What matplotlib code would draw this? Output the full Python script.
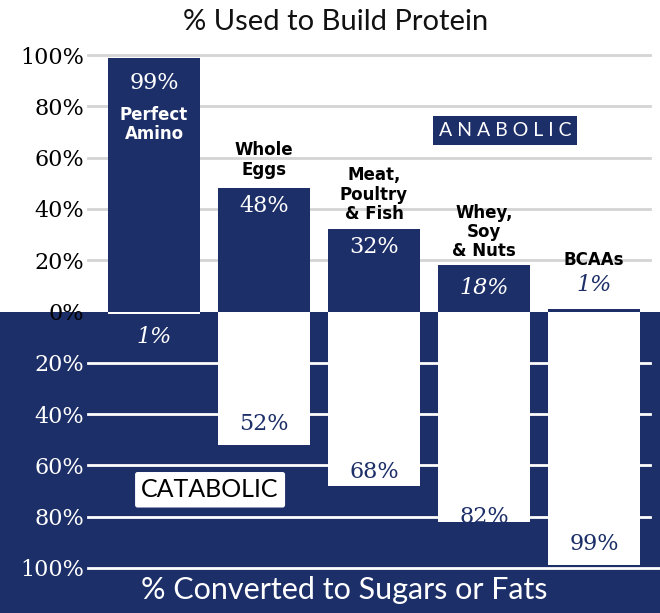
import matplotlib
matplotlib.use("Agg")
import matplotlib.pyplot as plt
from matplotlib.patches import Rectangle
from matplotlib.transforms import blended_transform_factory

categories = ["Perfect\nAmino", "Whole\nEggs", "Meat,\nPoultry\n& Fish", "Whey,\nSoy\n& Nuts", "BCAAs"]
anabolic = [99, 48, 32, 18, 1]
catabolic = [1, 52, 68, 82, 99]
ytick_vals = [100, 80, 60, 40, 20, 0, -20, -40, -60, -80, -100]
ytick_labels = ["100%", "80%", "60%", "40%", "20%", "0%", "20%", "40%", "60%", "80%", "100%"]

NAVY = "#1d2f68"
GRID_TOP = "#d4d4d4"

fig = plt.figure(figsize=(6.6, 6.13), dpi=100)
fig.patch.set_facecolor("white")

W, H = 660, 613
ax = fig.add_axes([88 / W, (H - 568) / H, (650 - 88) / W, (568 - 55) / H])
ax.set_facecolor("none")
ax.set_xlim(-0.6, 4.51)
ax.set_ylim(-100, 100)

# navy lower half background
tr = blended_transform_factory(fig.transFigure, ax.transData)
ax.add_patch(Rectangle((0, -300), 1, 300, transform=tr, facecolor=NAVY,
                       edgecolor="none", clip_on=False, zorder=0))

# gridlines
xmin, xmax = -0.6, 4.51
for v in ytick_vals:
    if v > 0:
        ax.plot([xmin, xmax], [v, v], color=GRID_TOP, lw=2, zorder=1, clip_on=False)
    elif v < 0:
        x2 = 4.65 if v == -100 else xmax
        ax.plot([xmin, x2], [v, v], color="white", lw=2, zorder=1, clip_on=False)

x = list(range(len(categories)))
width = 0.84
ax.bar(x, anabolic, width=width, color=NAVY, zorder=2)
ax.bar(x, [-c for c in catabolic], width=width, color="white", zorder=2)

serif = ["DejaVu Serif"]
sans_b = ["DejaVu Sans"]

# top value labels and category labels
top_val_y = [89, 41, 25, 9, 10.5]
top_val_col = ["white", "white", "white", "white", NAVY]
for i, v in enumerate(anabolic):
    ax.text(x[i], top_val_y[i], f"{v}%", ha="center", va="center",
            color=top_val_col[i], fontsize=16, family=serif,
            style="italic" if v < 20 else "normal", zorder=4)

cat_y = [73, 59, 45.5, 31, 20]
cat_col = ["white", "black", "black", "black", "black"]
for i, c in enumerate(categories):
    ax.text(x[i], cat_y[i], c, ha="center", va="center", color=cat_col[i],
            fontsize=12, fontweight="bold", family=sans_b, linespacing=1.1,
            zorder=4)

# bottom value labels
bot_val_y = [-10, -44, -62.6, -80, -90.7]
bot_val_col = ["white", NAVY, NAVY, NAVY, NAVY]
for i, v in enumerate(catabolic):
    ax.text(x[i], bot_val_y[i], f"{v}%", ha="center", va="center",
            color=bot_val_col[i], fontsize=16, family=serif,
            style="italic" if v < 10 else "normal", zorder=4)

# ANABOLIC / CATABOLIC boxes
ax.text(3.19, 70.5, "A N A B O L I C", ha="center", va="center", color="white",
        fontsize=14, family=["Lato"], zorder=5,
        bbox=dict(boxstyle="square,pad=0.3", facecolor=NAVY, edgecolor="none"))
ax.text(0.51, -69.5, "CATABOLIC", ha="center", va="center", color="black",
        fontsize=18, family=["Lato"], zorder=5,
        bbox=dict(boxstyle="round,pad=0.25,rounding_size=0.1", facecolor="white",
                  edgecolor="none"))

# y ticks
ax.set_yticks(ytick_vals)
ax.set_yticklabels(ytick_labels, family=serif, fontsize=16)
for lbl, v in zip(ax.get_yticklabels(), ytick_vals):
    lbl.set_color("white" if v < 0 else "black")
ax.tick_params(axis="y", length=0, pad=3)
ax.set_xticks([])
for s in ax.spines.values():
    s.set_visible(False)

# titles
fig.text(0.508, (H - 22) / H, "% Used to Build Protein", ha="center", va="center",
         fontsize=21, color="#111111", family=["Lato"])
fig.text(0.522, (H - 590) / H, "% Converted to Sugars or Fats", ha="center",
         va="center", fontsize=22, color="white", family=["Lato"])

fig.savefig("out.png", dpi=100, facecolor=fig.get_facecolor())
